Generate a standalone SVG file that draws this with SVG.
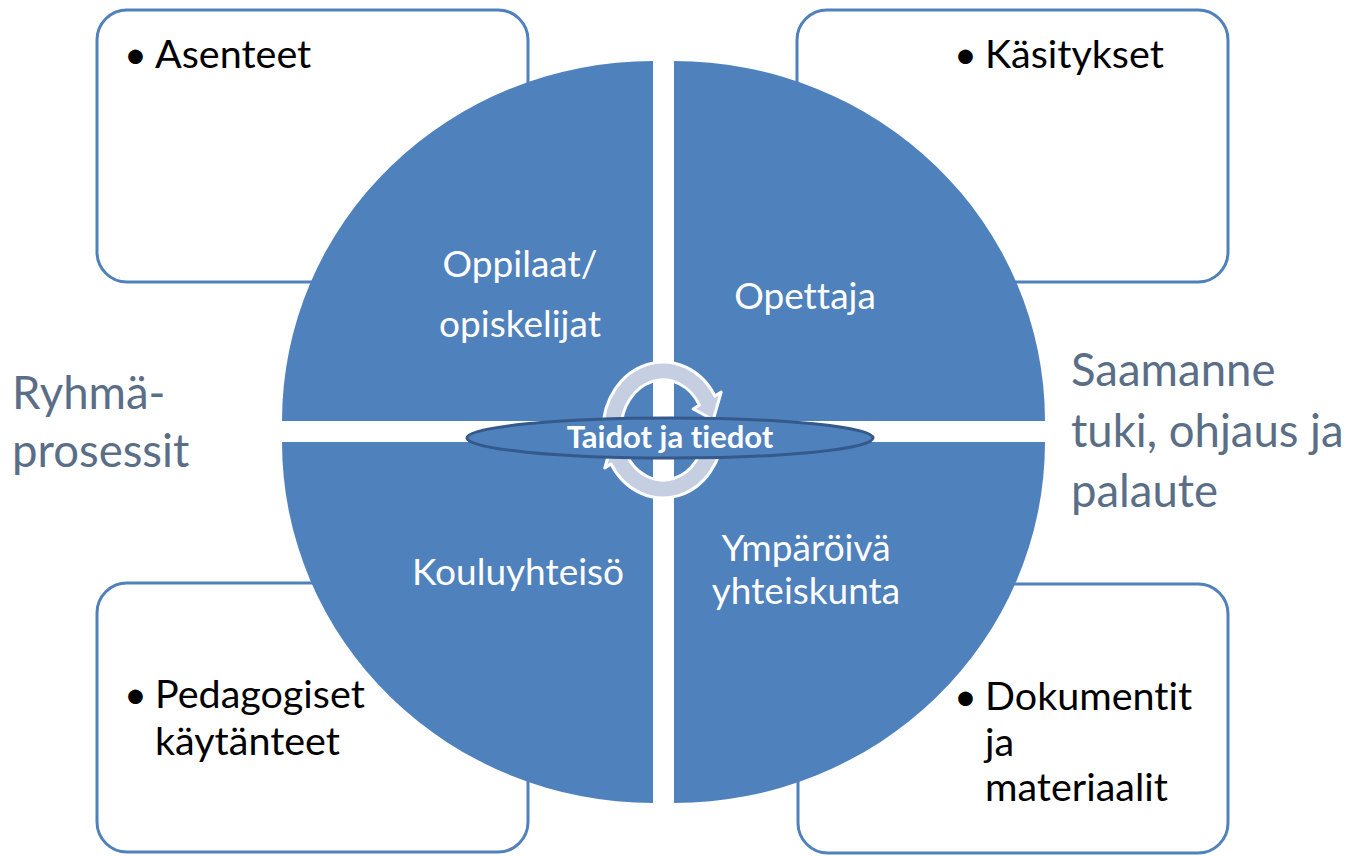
<svg xmlns="http://www.w3.org/2000/svg" width="1351" height="856" viewBox="0 0 1351 856">
  <style>
    text { font-variant-ligatures: none; font-feature-settings: "liga" 0, "dlig" 0; }
    .box { fill: #ffffff; stroke: #4f81bd; stroke-width: 3; }
    .quad { fill: #4f81bd; }
    .boxtxt { font-family: Lato, "Liberation Sans", sans-serif; font-size: 39.5px; fill: #000000; }
    .qtxt { font-family: Lato, "Liberation Sans", sans-serif; font-size: 37px; fill: #ffffff; text-anchor: middle; }
    .side { font-family: Lato, "Liberation Sans", sans-serif; font-size: 45.5px; fill: #5a6e87; }
    .cyc { fill: #c6cee2; stroke: #ffffff; stroke-width: 3; stroke-linejoin: round; }
    .center { fill: #4f81bd; stroke: #34598a; stroke-width: 3; }
    .ctxt { font-family: Lato, "Liberation Sans", sans-serif; font-size: 31px; font-weight: bold; fill: #ffffff; text-anchor: middle; }
  </style>
  <rect width="1351" height="856" fill="#ffffff"/>

  <g id="box-asenteet">
    <rect class="box" x="97" y="10" width="431" height="272" rx="30" ry="30"/>
    <text class="boxtxt" x="124" y="68">•</text>
    <text class="boxtxt" x="155" y="68">Asenteet</text>
  </g>
  <g id="box-kasitykset">
    <rect class="box" x="797" y="10" width="431" height="272" rx="30" ry="30"/>
    <text class="boxtxt" x="954" y="68">•</text>
    <text class="boxtxt" x="985" y="68">Käsitykset</text>
  </g>
  <g id="box-pedagogiset">
    <rect class="box" x="97" y="583" width="431" height="269" rx="30" ry="30"/>
    <text class="boxtxt" x="124" y="708">•</text>
    <text class="boxtxt" x="155" y="708">Pedagogiset</text>
    <text class="boxtxt" x="155" y="755">käytänteet</text>
  </g>
  <g id="box-dokumentit">
    <rect class="box" x="798" y="584" width="430" height="269" rx="30" ry="30"/>
    <text class="boxtxt" x="954" y="710">•</text>
    <text class="boxtxt" x="985" y="710">Dokumentit</text>
    <text class="boxtxt" x="985" y="756">ja</text>
    <text class="boxtxt" x="985" y="801">materiaalit</text>
  </g>

  <g id="quad-oppilaat">
    <path class="quad" d="M653 421 L282 421 A371 360 0 0 1 653 61 Z"/>
    <text class="qtxt" x="520" y="277">Oppilaat/</text>
    <text class="qtxt" x="520" y="337">opiskelijat</text>
  </g>
  <g id="quad-opettaja">
    <path class="quad" d="M674 421 L674 61 A371 360 0 0 1 1045 421 Z"/>
    <text class="qtxt" x="805" y="309">Opettaja</text>
  </g>
  <g id="quad-kouluyhteiso">
    <path class="quad" d="M653 442 L653 803 A371 361 0 0 1 282 442 Z"/>
    <text class="qtxt" x="518" y="585">Kouluyhteisö</text>
  </g>
  <g id="quad-ymparoiva">
    <path class="quad" d="M674 442 L1045 442 A371 361 0 0 1 674 803 Z"/>
    <text class="qtxt" x="806" y="561">Ympäröivä</text>
    <text class="qtxt" x="806" y="604">yhteiskunta</text>
  </g>

  <g id="connectors">
    <path class="cyc" d="M603 430 A60 68 0 0 1 714.96 396 L721.2 392 L713.2 419.8 L693.2 409 L699.4 405 A42 50 0 0 0 621 430 Z"/>
    <path class="cyc" d="M723 430 A60 68 0 0 1 611.04 464 L604.8 468 L612.8 440.2 L632.8 451 L626.6 455 A42 50 0 0 0 705 430 Z"/>
  </g>

  <g id="center-taidot">
    <ellipse class="center" cx="670" cy="438" rx="203" ry="20"/>
    <text class="ctxt" x="670" y="448">Taidot ja tiedot</text>
  </g>

  <g id="label-ryhma">
    <text class="side" x="12" y="409">Ryhmä-</text>
    <text class="side" x="12" y="467">prosessit</text>
  </g>
  <g id="label-saamanne">
    <text class="side" x="1071" y="386">Saamanne</text>
    <text class="side" x="1071" y="447">tuki, ohjaus ja</text>
    <text class="side" x="1071" y="507">palaute</text>
  </g>
</svg>
